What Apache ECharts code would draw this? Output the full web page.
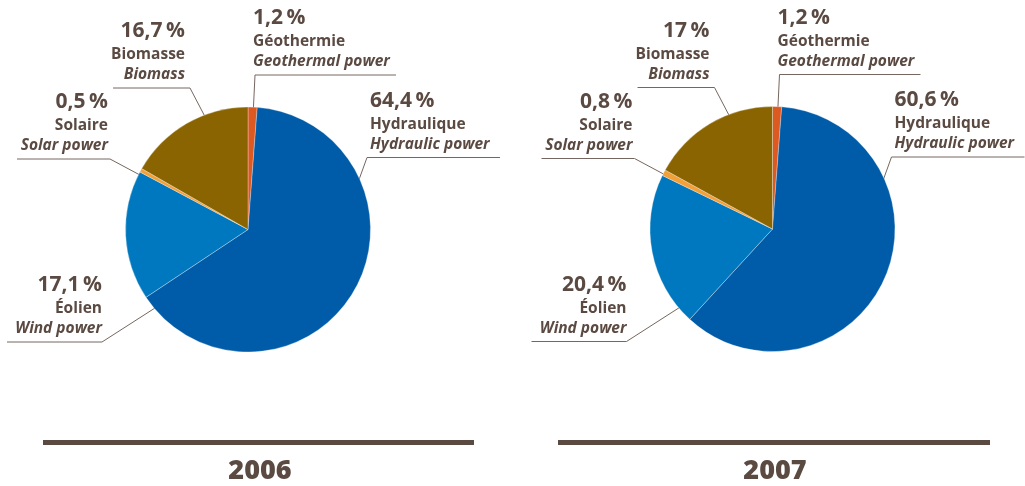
<!DOCTYPE html>
<html>
<head>
<meta charset="utf-8">
<script src="https://cdn.jsdelivr.net/npm/echarts@6/dist/echarts.min.js"></script>
<style>
html,body{margin:0;padding:0;background:#fff;}
#chart{width:1025px;height:486px;}
</style>
</head>
<body>
<div id="chart"></div>
<script>
// ---- data ----
var years = ['2006', '2007'];
var categoriesFr = ['Géothermie', 'Hydraulique', 'Éolien', 'Solaire', 'Biomasse'];
var categoriesEn = ['Geothermal power', 'Hydraulic power', 'Wind power', 'Solar power', 'Biomass'];
var values2006 = [1.2, 64.4, 17.1, 0.5, 16.7];
var values2007 = [1.2, 60.6, 20.4, 0.8, 17];

// ---- styles ----
var colors = ['#dc5a22', '#005ca8', '#0078bf', '#f2a03a', '#8a6400'];
var textColor = '#5b4a42';
var fontFamily = '"Open Sans", Lato, sans-serif';

// label layout relative to pie centre: start, elbow, end-x of horizontal, text anchor x, side
var labelGeom = [
  {start: [5, -113], elbow: [7, -154.5], endX: 148, textX: 5, side: 'left'},
  {start: [108, -41.5], elbow: [119, -72], endX: 252, textX: 122, side: 'left'},
  {start: [-86, 74], elbow: [-146, 112.5], endX: -241, textX: -146, side: 'right'},
  {start: [-109, -55], elbow: [-138, -70.5], endX: -231, textX: -140, side: 'right'},
  {start: [-41, -109], elbow: [-58, -141.5], endX: -135, textX: -63, side: 'right'}
];
var pieCenters = [[248, 229.5], [772.5, 229]];
var pieRadius = 122.5;

function fmt(v) {
  return String(v).replace('.', ',') + '\u2009%';
}

function makeSeries(idx, values) {
  var c = pieCenters[idx];
  return {
    type: 'pie',
    name: years[idx],
    center: c,
    radius: pieRadius,
    startAngle: 90,
    clockwise: true,
    silent: true,
    animation: false,
    itemStyle: {borderWidth: 0.5, borderColor: 'rgba(255,255,255,0.6)'},
    data: values.map(function (v, i) {
      return {value: v, name: categoriesFr[i], itemStyle: {color: colors[i]}};
    }),
    label: {
      show: true,
      position: 'outside',
      overflow: 'none',
      formatter: function (p) {
        return '{pct|' + fmt(p.value) + '}\n{fr|' + categoriesFr[p.dataIndex] + '}\n{en|' + categoriesEn[p.dataIndex] + '}';
      },
      color: textColor,
      fontFamily: fontFamily,
      rich: {
        pct: {fontSize: 21, fontWeight: 'bold', lineHeight: 27, color: textColor, fontFamily: fontFamily},
        fr: {fontSize: 15.5, fontWeight: 'bold', lineHeight: 20, color: textColor, fontFamily: fontFamily},
        en: {fontSize: 15.5, fontWeight: 'bold', fontStyle: 'italic', lineHeight: 20, color: textColor, fontFamily: fontFamily}
      }
    },
    labelLine: {
      show: true,
      lineStyle: {color: '#75675f', width: 1}
    },
    labelLayout: function (p) {
      var g = labelGeom[p.dataIndex];
      var ly = c[1] + g.elbow[1];
      return {
        x: c[0] + g.textX,
        y: ly - 3,
        align: g.side,
        verticalAlign: 'bottom',
        labelLinePoints: [
          [c[0] + g.start[0], c[1] + g.start[1]],
          [c[0] + g.elbow[0], ly],
          [c[0] + g.endX, ly]
        ]
      };
    }
  };
}

var chart = echarts.init(document.getElementById('chart'), null, {renderer: 'canvas'});
chart.setOption({
  backgroundColor: '#ffffff',
  title: [
    {text: years[0], left: 255, top: 453, textAlign: 'center',
     textStyle: {color: textColor, fontSize: 27, fontWeight: 800, fontFamily: fontFamily}},
    {text: years[1], left: 770, top: 453, textAlign: 'center',
     textStyle: {color: textColor, fontSize: 27, fontWeight: 800, fontFamily: fontFamily}}
  ],
  graphic: [
    {type: 'rect', shape: {x: 43, y: 440, width: 431, height: 5}, style: {fill: textColor}, silent: true},
    {type: 'rect', shape: {x: 558, y: 440, width: 432, height: 5}, style: {fill: textColor}, silent: true}
  ],
  series: [makeSeries(0, values2006), makeSeries(1, values2007)]
});
</script>
</body>
</html>
